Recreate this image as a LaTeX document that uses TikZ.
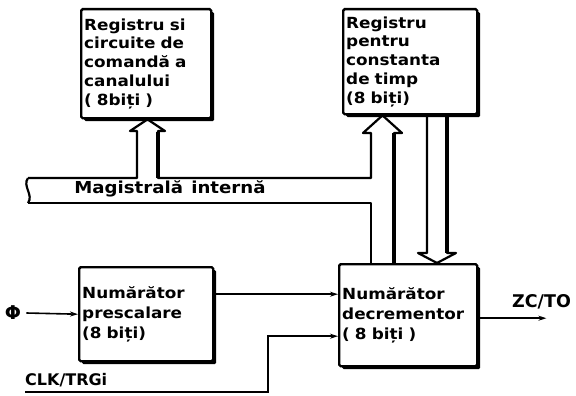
\documentclass[tikz,border=0pt]{standalone}
\usepackage{fontspec}
\setmainfont{DejaVu Sans}
\newfontfamily\latfont[FakeStretch=1.1]{DejaVu Sans}
\usetikzlibrary{positioning,calc,arrows.meta,shadows}

\tikzset{
  blok/.style={draw, line width=2.4pt, rounded corners=1.5pt, fill=white,
    align=left, anchor=north west, inner sep=3pt,
    font=\latfont\bfseries\fontsize{15.3}{18.7}\selectfont,
    general shadow={fill=black, shadow xshift=3pt, shadow yshift=-3pt}},
  blokmare/.style={blok, font=\latfont\bfseries\fontsize{15.3}{20}\selectfont},
  eticheta/.style={font=\bfseries\fontsize{16}{18}\selectfont, inner sep=0pt},
  leg/.style={line width=1.6pt, -{Stealth[length=8pt,width=5pt]}},
  magi/.style={line width=2.2pt, line join=round},
  magigros/.style={line width=4pt},
}

\begin{document}
\begin{tikzpicture}[x=1pt,y=-1pt]
  \useasboundingbox (0,0) rectangle (576,396);

  % blocuri
  \node[blok, text width=124pt, minimum height=109pt] (regc) at (80,8)
    {Registru si\\circuite de\\comandă a\\canalului\\( 8biți )};
  \node[blok, text width=128pt, minimum height=105pt] (regt) at (342,8)
    {Registru\\pentru\\constanta\\de timp\\(8 biți)};
  \node[blokmare, text width=128pt, minimum height=94pt] (presc) at (78,266)
    {Numărător\\prescalare\\(8 biți)};
  \node[blokmare, text width=132pt, minimum height=102pt] (decr) at (338,263)
    {Numărător\\decrementor\\( 8 biți )};

  % magistrala interna
  \coordinate (b1) at (137,178);
  \coordinate (b2) at (158,178);
  \coordinate (v1) at (371,178);
  \coordinate (v2) at (394,133);
  \coordinate (d1) at (427,253);
  \coordinate (d2) at (447,253);
  \coordinate (t1) at (147.5,0);
  \coordinate (t2) at (382.5,0);
  \coordinate (t3) at (437,0);
  \draw[magi] (28,178) -- (b1) -- (137,131) -- (130,131) -- (regc.south -| t1)
    -- (165,131) -- (158,131) -- (b2) -- (v1) -- (371,133) -- (363,133)
    -- (regt.south -| t2) -- (402,133) -- (v2) -- (v2 |- decr.north);
  \draw[magi] (28,203) -- (371,203) -- (v1 |- decr.north);
  \draw[magi] (28,178) .. controls (22,186) and (34,195) .. (28,203);
  \draw[magi] (d1 |- regt.south) -- (d1) -- (418,253) -- (decr.north -| t3)
    -- (456,253) -- (d2) -- (d2 |- regt.south);
  \draw[magigros] (158,132) -- (b2);
  \draw[magigros] (v2) -- (v2 |- decr.north);
  \draw[magigros] (d2 |- regt.south) -- (d2);
  \node[font=\latfont\bfseries\fontsize{16.5}{18}\selectfont, inner sep=0pt]
    (mag) at (170,189) {Magistrală\hspace{0.5em}internă};

  % semnale
  \node[eticheta, font=\bfseries\fontsize{19}{20}\selectfont] (phi) at (13,313) {Φ};
  \draw[leg] (phi.east) ++(5,0) -- (presc.west);
  \draw[leg] ($(presc.east)+(0,-20)$) coordinate (p1) -- (p1 -| decr.west);
  \node[eticheta, anchor=west] (clk) at (25,380) {CLK/TRGi};
  \coordinate (clkin) at (25,392);
  \draw[leg] (clkin) -- ++(243,0) |- ($(decr.west)+(0,21)$);
  \draw[leg] ($(decr.east)+(0,3)$) -- ++(68,0) coordinate (zc);
  \node[eticheta, anchor=west, font=\bfseries\fontsize{17.5}{18}\selectfont] (zcto) at (512,302) {ZC/TO};
\end{tikzpicture}
\end{document}
